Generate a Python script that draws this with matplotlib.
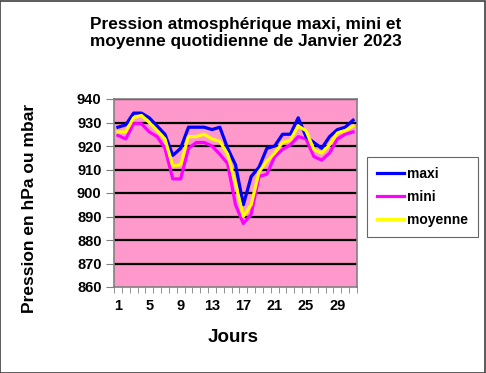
import matplotlib
matplotlib.use('Agg')
import matplotlib.pyplot as plt

plt.rcParams['font.family'] = ['Liberation Sans', 'DejaVu Sans']
plt.rcParams['font.weight'] = 'bold'

days = list(range(1, 32))
maxi = [928, 929, 934, 934, 932, 928.5, 925, 916, 919, 928, 928, 928, 927, 928, 919, 912,
        895, 907, 911, 919, 920, 925, 925, 932, 924, 921.5, 919, 924, 927, 928, 931]
mini = [924.5, 923, 929.5, 929.5, 926, 924, 919, 906, 906, 919, 921.5, 921.5, 920, 916.5, 912.5, 895,
        887, 891, 907, 908, 915.5, 918.5, 920.5, 924, 923, 915.5, 914, 917, 923, 925, 926]
moyenne = [926, 926, 932, 933, 930, 926.5, 923, 911.5, 912, 924, 924, 925, 923, 922, 916.5, 904,
           890, 895, 909, 913.5, 917, 921.5, 922.5, 928.5, 926.5, 918.5, 917, 920.5, 925.5, 926.5, 928.5]
xlabels = [1, 5, 9, 13, 17, 21, 25, 29]

fig = plt.figure(figsize=(4.86, 3.73), dpi=100)
ax = fig.add_axes([114 / 486, 1 - 287 / 373, 243 / 486, 188 / 373])
ax.set_facecolor('#FF99CC')

for y in range(870, 941, 10):
    ax.axhline(y, color='black', linewidth=1.6, zorder=1)

ax.plot(days, maxi, color='#0000FF', linewidth=2.3, label='maxi', zorder=3)
ax.plot(days, mini, color='#FF00FF', linewidth=2.3, label='mini', zorder=2)
ax.plot(days, moyenne, color='#FFFF00', linewidth=2.3, label='moyenne', zorder=4)

ax.set_xlim(0.5, 31.5)
ax.set_ylim(860, 940)
ax.set_yticks(range(860, 941, 10))
ax.set_xticks(xlabels)
ax.set_xticks([d + 0.5 for d in range(0, 32)], minor=True)
ax.tick_params(axis='x', which='major', length=0, pad=9, labelsize=10.5)
ax.tick_params(axis='x', which='minor', length=4, color='#808080', direction='out')
ax.tick_params(axis='y', length=6, color='#808080', labelsize=10.5, pad=3)
for lab in ax.get_xticklabels() + ax.get_yticklabels():
    lab.set_fontweight('bold')

for s in ax.spines.values():
    s.set_color('#808080')
    s.set_linewidth(1.2)

fig.text(233 / 486, 1 - 338 / 373, 'Jours', ha='center', va='center', fontsize=13.5, fontweight='bold')
fig.text(29 / 486, 1 - 208 / 373, 'Pression en hPa ou mbar', ha='center', va='center',
         rotation=90, fontsize=12.5, fontweight='bold')

fig.text(0.505, 1 - 17 / 373, 'Pression atmosphérique maxi, mini et\nmoyenne quotidienne de Janvier 2023',
         ha='center', va='top', fontsize=12.4, fontweight='bold', linespacing=1.2)

leg = fig.legend(loc='upper left', bbox_to_anchor=(367 / 486, 1 - 157 / 373),
                 frameon=True, fancybox=False, edgecolor='#404040', fontsize=10,
                 handlelength=1.95, handletextpad=0.22, labelspacing=0.65, borderpad=0.7,
                 borderaxespad=0)
leg.get_frame().set_linewidth(0.8)
for t in leg.get_texts():
    t.set_fontweight('bold')

fig.patches.append(plt.Rectangle((0.001, 0.001), 0.997, 0.997, transform=fig.transFigure,
                                 fill=False, edgecolor='#404040', linewidth=1.2))

fig.savefig('out.png', dpi=100)
